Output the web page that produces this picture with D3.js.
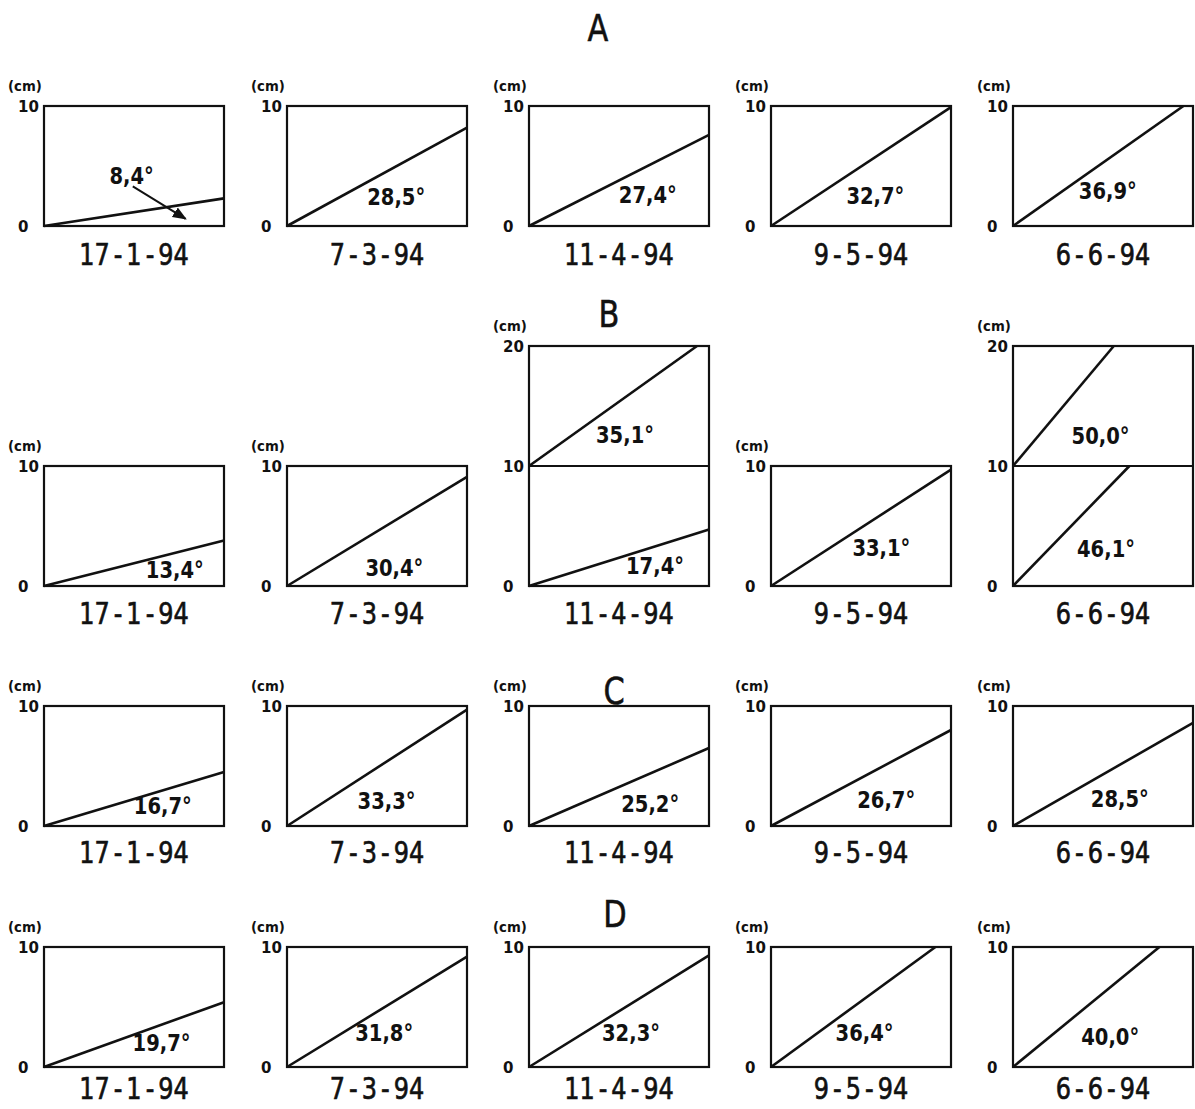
<!DOCTYPE html>
<html>
<head>
<meta charset="utf-8">
<script src="https://cdn.jsdelivr.net/npm/d3@7"></script>
<style>
  html, body { margin: 0; padding: 0; background: #fff; }
  svg { display: block; }
  text { font-family: "DejaVu Sans", sans-serif; fill: #111; }
</style>
</head>
<body>
<svg id="chart" width="1195" height="1109"></svg>
<script>
// ---------------- DATA ----------------
const groups = ["A", "B", "C", "D"];
const dates = ["17 - 1 - 94", "7 - 3 - 94", "11 - 4 - 94", "9 - 5 - 94", "6 - 6 - 94"];

// angle values (degrees) per group, per date
const anglesA = [8.4, 28.5, 27.4, 32.7, 36.9];
const anglesB = [13.4, 30.4, 17.4, 33.1, 46.1];
const anglesBUpper = [null, null, 35.1, null, 50.0];
const anglesC = [16.7, 33.3, 25.2, 26.7, 28.5];
const anglesD = [19.7, 31.8, 32.3, 36.4, 40.0];

// y-axis maximum (cm) per panel of group B (others are 10)
const yMaxB = [10, 10, 20, 10, 20];
const yTicks10 = [0, 10];
const yTicks20 = [0, 10, 20];

// end points of each line [x cm, y cm] (x domain 0-15 cm)
const endA = [[15, 2.3], [15, 8.2], [15, 7.6], [15, 9.9], [14.2, 10]];
const endB = [[15, 3.8], [15, 9.1], [15, 4.7], [15, 9.7], [9.7, 10]];
const endBUpper = [null, null, [14.0, 20], null, [8.4, 20]];
const endC = [[15, 4.5], [15, 9.7], [15, 6.5], [15, 8.0], [15, 8.6]];
const endD = [[15, 5.4], [15, 9.2], [15, 9.3], [13.7, 10], [12.2, 10]];

// where the angle labels sit [x cm, y cm]
const labA = [[7.3, 4.2], [9.1, 2.4], [9.9, 2.6], [8.7, 2.5], [7.9, 2.9]];
const labB = [[10.9, 1.3], [8.95, 1.5], [10.5, 1.65], [9.2, 3.2], [7.75, 3.1]];
const labBUpper = [null, null, [8.0, 12.6], null, [7.3, 12.5]];
const labC = [[9.9, 1.7], [8.3, 2.1], [10.1, 1.8], [9.6, 2.2], [8.9, 2.25]];
const labD = [[9.8, 2.0], [8.1, 2.8], [8.5, 2.8], [7.8, 2.8], [8.1, 2.5]];

// arrow pointing from label 8,4° to its line (A, 17-1-94)
const arrowA1 = [[7.4, 3.3], [11.8, 0.6]];

// ---------------- LAYOUT ----------------
const svg = d3.select("#chart");
const colLeft = [44, 287, 529, 771, 1013];
const boxW = 180;
const unitH = 12; // px per cm vertically
const rowBottom = { A: 226, B: 586, C: 826, D: 1067 };
const dateOffset = { A: 28, B: 27, C: 26, D: 21 };
const letterPos = { A: [598, 41], B: [609, 327], C: [614, 704], D: [615, 927] };
const xMaxCm = 15;

svg.append("defs").append("marker")
  .attr("id", "arrow").attr("viewBox", "0 0 10 10")
  .attr("refX", 9).attr("refY", 5)
  .attr("markerWidth", 7).attr("markerHeight", 7)
  .attr("orient", "auto")
  .append("path").attr("d", "M0,1 L10,5 L0,9 z").attr("fill", "#111");

const fmt = v => d3.format(".1f")(v).replace(".", ",") + "°";

// condensed text helper
function ctext(sel, x, y, str, size, weight, sx, anchor) {
  return sel.append("text")
    .attr("transform", `translate(${x},${y}) scale(${sx},1)`)
    .attr("text-anchor", anchor || "middle")
    .style("font-size", size + "px")
    .style("font-weight", weight || "normal")
    .text(str);
}

const rowsData = {
  A: { angles: anglesA, ends: endA, labs: labA, yMax: [10, 10, 10, 10, 10] },
  B: { angles: anglesB, ends: endB, labs: labB, yMax: yMaxB,
       upAngles: anglesBUpper, upEnds: endBUpper, upLabs: labBUpper },
  C: { angles: anglesC, ends: endC, labs: labC, yMax: [10, 10, 10, 10, 10] },
  D: { angles: anglesD, ends: endD, labs: labD, yMax: [10, 10, 10, 10, 10] }
};

groups.forEach(g => {
  const r = rowsData[g];
  ctext(svg, letterPos[g][0], letterPos[g][1], g, 38, "normal", 0.8)
    .attr("stroke", "#111").attr("stroke-width", 0.6);

  dates.forEach((dt, i) => {
    const left = colLeft[i];
    const bottom = rowBottom[g];
    const ym = r.yMax[i];
    const x = d3.scaleLinear().domain([0, xMaxCm]).range([left, left + boxW]);
    const y = d3.scaleLinear().domain([0, ym]).range([bottom, bottom - ym * unitH]);
    const p = svg.append("g");

    // box
    p.append("rect")
      .attr("x", x(0)).attr("y", y(ym))
      .attr("width", x(xMaxCm) - x(0)).attr("height", y(0) - y(ym))
      .attr("fill", "none").attr("stroke", "#111").attr("stroke-width", 2.2);

    // middle separator for 20 cm panels
    if (ym === 20) {
      p.append("line")
        .attr("x1", x(0)).attr("x2", x(xMaxCm))
        .attr("y1", y(10)).attr("y2", y(10))
        .attr("stroke", "#111").attr("stroke-width", 2);
    }

    // y axis ticks
    const ax = p.append("g")
      .attr("transform", `translate(${x(0)},0)`)
      .call(d3.axisLeft(y).tickValues(ym === 20 ? yTicks20 : yTicks10).tickSize(0).tickFormat(d3.format("d")));
    ax.select(".domain").remove();
    ax.selectAll("text")
      .attr("x", -26).attr("dy", "0.36em")
      .attr("text-anchor", "start")
      .style("font-size", "15px").style("font-weight", "bold")
      .style("font-family", "'DejaVu Sans',sans-serif")
      .attr("fill", "#111");

    ctext(p, x(0) - 36, y(ym) - 15, "(cm)", 14, "bold", 0.95, "start");

    // lines
    const line = d3.line().x(d => x(d[0])).y(d => y(d[1]));
    p.append("path")
      .attr("d", line([[0, 0], r.ends[i]]))
      .attr("fill", "none").attr("stroke", "#111").attr("stroke-width", 2.6);
    ctext(p, x(r.labs[i][0]), y(r.labs[i][1]) + 8, fmt(r.angles[i]), 23, "bold", 0.85);

    if (r.upAngles && r.upAngles[i] != null) {
      p.append("path")
        .attr("d", line([[0, 10], r.upEnds[i]]))
        .attr("fill", "none").attr("stroke", "#111").attr("stroke-width", 2.6);
      ctext(p, x(r.upLabs[i][0]), y(r.upLabs[i][1]) + 8, fmt(r.upAngles[i]), 23, "bold", 0.85);
    }

    if (g === "A" && i === 0) {
      p.append("path")
        .attr("d", line(arrowA1))
        .attr("fill", "none").attr("stroke", "#111").attr("stroke-width", 2)
        .attr("marker-end", "url(#arrow)");
    }

    // date label (spaced, condensed)
    ctext(p, (x(0) + x(xMaxCm)) / 2, bottom + dateOffset[g] + 11,
          dt.replace(/ /g, "\u2006"), 30, "normal", 0.8)
      .attr("stroke", "#111").attr("stroke-width", 0.7);
  });
});
</script>
</body>
</html>
